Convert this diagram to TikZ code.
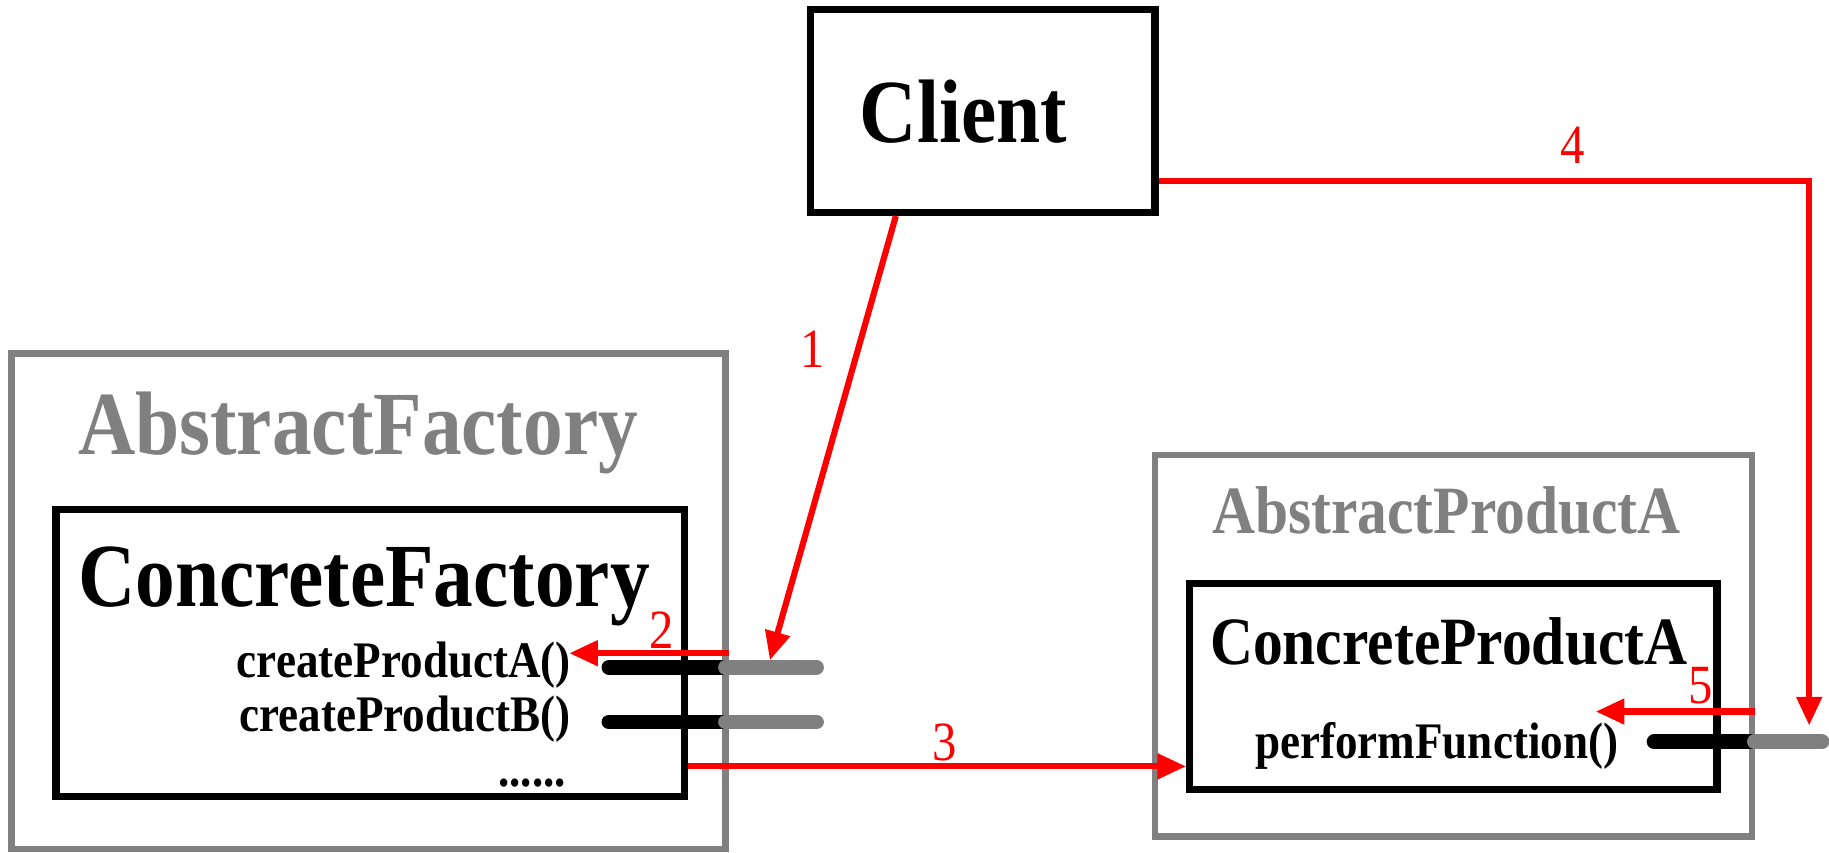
\documentclass[tikz,border=0pt]{standalone}
\usepackage{fontspec}
\setmainfont[FakeStretch=0.88]{Liberation Serif}
\usetikzlibrary{arrows.meta}

\begin{document}
\begin{tikzpicture}[
	outerbox/.style={draw=gray, line width=1.6pt, minimum width=#1},
	innerbox/.style={draw=black, line width=1.8pt, minimum width=#1},
	flow/.style={red, line width=1.5pt, -{Triangle[length=7pt,width=6pt]}},
	num/.style={red, font=\fontsize{13.5}{15}\selectfont, anchor=base},
	bigname/.style={font=\fontsize{22}{24}\selectfont\bfseries, anchor=base, inner sep=0},
	midname/.style={font=\fontsize{16.5}{18}\selectfont\bfseries, anchor=base, inner sep=0},
	method/.style={font=\fontsize{12.5}{14}\selectfont\bfseries, anchor=base east, inner sep=0},
	plug/.style={line width=3.6pt, line cap=round}]
	\useasboundingbox (0,0) rectangle (15.68,-7.31);

	% boxes
	\node[innerbox=2.95cm, minimum height=1.74cm] (client) at (8.425,-0.95) {};
	\node[outerbox=6.12cm, minimum height=4.25cm] (afac) at (3.16,-5.155) {};
	\node[innerbox=5.39cm, minimum height=2.46cm] (cfac) at (3.175,-5.60) {};
	\node[outerbox=5.12cm, minimum height=3.27cm] (aprod) at (12.46,-5.535) {};
	\node[innerbox=4.52cm, minimum height=1.77cm] (cprod) at (12.46,-5.885) {};

	% names
	\node[bigname] (clientname) at (8.26,-1.22) {Client};
	\node[bigname, gray] (afacname) at (3.07,-3.90) {AbstractFactory};
	\node[bigname] (cfacname) at (3.12,-5.20) {ConcreteFactory};
	\node[midname, gray] (aprodname) at (12.40,-4.57) {AbstractProductA};
	\node[midname] (cprodname) at (12.42,-5.70) {ConcreteProductA};
	\node[method] (mA) at (4.90,-5.81) {createProductA()};
	\node[method] (mB) at (4.90,-6.27) {createProductB()};
	\node[method] (dots) at (4.86,-6.74) {......};
	\node[method] (mF) at (13.88,-6.50) {performFunction()};

	% interfaces
	\foreach \y in {-5.72,-6.19} {
		\draw[plug, black] (5.22,\y) -- (6.22,\y);
		\draw[plug, gray] (6.22,\y) -- (7.00,\y);
	}
	\draw[plug, black] (14.18,-6.36) -- (15.04,-6.36);
	\draw[plug, gray] (15.04,-6.36) -- (15.62,-6.36);

	\coordinate (pA) at (6.60,-5.66);
	\coordinate (pF) at (15.51,-6.22);
	\coordinate (c2) at (4.88,-5.60);
	\coordinate (c5) at (13.68,-6.10);

	% calls
	\draw[flow] ([xshift=-0.745cm]client.south) -- (pA);
	\draw[flow] ([yshift=-0.445cm]afac.east) -- (c2);
	\draw[flow] ([yshift=-0.97cm]cfac.east) -- ([yshift=-0.97cm]cfac.east -| cprod.west);
	\draw[flow] ([yshift=-0.6cm]client.east) -| (pF);
	\draw[flow] ([yshift=-0.565cm]aprod.east) -- (c5);

	\node[num] (n1) at (6.97,-3.15) {1};
	\node[num] (n2) at (5.67,-5.56) {2};
	\node[num] (n3) at (8.10,-6.52) {3};
	\node[num] (n4) at (13.48,-1.40) {4};
	\node[num] (n5) at (14.58,-6.03) {5};
\end{tikzpicture}
\end{document}
